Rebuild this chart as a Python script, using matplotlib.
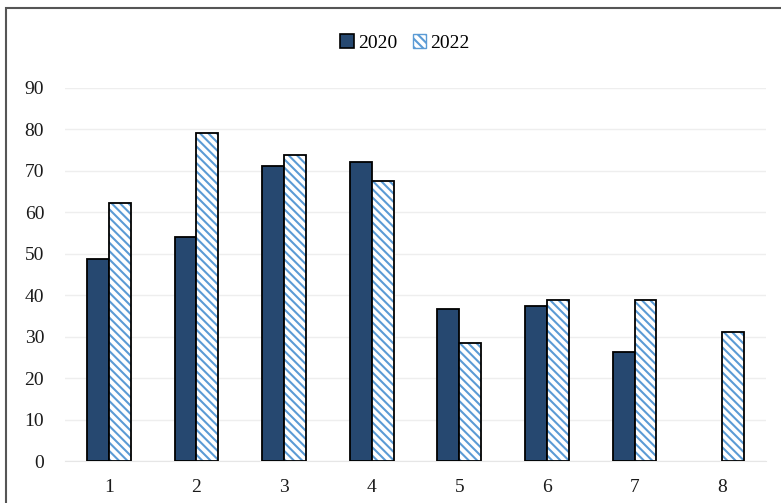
import numpy as np
import matplotlib
matplotlib.use('Agg')
import matplotlib.pyplot as plt
from matplotlib.patches import Rectangle, Patch

# values
categories = ['1', '2', '3', '4', '5', '6', '7', '8']
values_2020 = [48.7, 54.0, 71.2, 72.2, 36.7, 37.4, 26.3, np.nan]
values_2022 = [62.3, 79.1, 73.8, 67.6, 28.5, 38.9, 38.9, 31.1]
yticks = [0, 10, 20, 30, 40, 50, 60, 70, 80, 90]

plt.rcParams['font.family'] = ['Liberation Serif', 'DejaVu Serif']
plt.rcParams['hatch.linewidth'] = 1.5

W, H = 781, 503
fig = plt.figure(figsize=(W / 100, H / 100), dpi=100)
ax = fig.add_axes([65 / W, 1 - 461 / H, (766 - 65) / W, (461 - 88) / H])

x = np.arange(len(categories))
bw = 0.25
dark = '#264870'
stripe = '#5b9bd5'

ax.bar(x - bw / 2, values_2020, bw, color=dark, edgecolor='black', linewidth=1.3, zorder=3)
# hatched bars: stripes first, black outline on top
ax.bar(x + bw / 2, values_2022, bw, color='white', edgecolor=stripe, hatch='\\\\\\\\',
       linewidth=0, zorder=3)
ax.bar(x + bw / 2, values_2022, bw, fill=False, edgecolor='black', linewidth=1.3, zorder=4)

ax.set_xlim(-0.5, len(categories) - 0.5)
ax.set_ylim(0, 90)
ax.set_xticks(x)
ax.set_xticklabels(categories)
ax.set_yticks(yticks)
ax.tick_params(length=0, labelsize=14, colors='#1a1a1a')
ax.tick_params(axis='x', pad=13)
ax.tick_params(axis='y', pad=15)
ax.yaxis.grid(True, color='#eeeeee', linewidth=1, zorder=0)
for s in ['top', 'right', 'left']:
    ax.spines[s].set_visible(False)
ax.spines['bottom'].set_color('#e6e6e6')

handles = [Patch(facecolor=dark, edgecolor='black', linewidth=1.2),
           Patch(facecolor='white', edgecolor=stripe, hatch='\\\\\\\\')]
leg = fig.legend(handles, ['2020', '2022'], loc='center', bbox_to_anchor=(405 / W, 1 - 43 / H),
                 ncol=2, frameon=False, fontsize=14, handlelength=0.7, handleheight=0.7,
                 handletextpad=0.2, columnspacing=0.8)

# outer chart border, cropped at right and bottom
fig.patches.append(Rectangle((6 / W, -0.1), 1.1, 1 - 8 / H + 0.1, transform=fig.transFigure,
                             fill=False, edgecolor='#555555', linewidth=1.5))

fig.savefig('out.png', dpi=100)
